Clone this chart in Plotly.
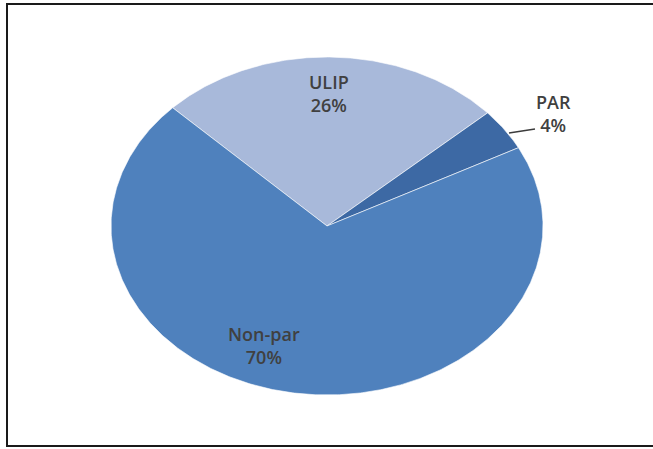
import numpy as np
import plotly.graph_objects as go

# Portfolio mix by product line (share in %)
categories = ["ULIP", "PAR", "Non-par"]
shares = [26, 4, 70]
colors = ["#A8B9DA", "#3D69A4", "#4F81BD"]

W, H = 653, 449
cx, cy, rx, ry = 327, 226, 216, 169   # ellipse geometry in pixels
start_deg = 135.6                      # first slice boundary, going clockwise

fig = go.Figure()

total = sum(shares)
a0 = start_deg
for name, v, col in zip(categories, shares, colors):
    span = 360.0 * v / total
    a1 = a0 - span
    t = np.radians(np.linspace(a0, a1, max(8, int(span * 2))))
    xs = np.concatenate([[cx], cx + rx * np.cos(t), [cx]])
    ys = np.concatenate([[cy], cy - ry * np.sin(t), [cy]])
    fig.add_trace(go.Scatter(
        x=xs, y=ys, mode="lines", fill="toself", fillcolor=col,
        line=dict(color="rgba(255,255,255,0.6)", width=1),
        hoverinfo="text", text=f"{name}: {v}%", showlegend=False,
    ))
    a0 = a1

# data labels
label_pos = {"ULIP": (329, 93), "PAR": (553, 113), "Non-par": (264, 345)}
for name, v in zip(categories, shares):
    x, y = label_pos[name]
    fig.add_annotation(
        x=x, y=y, xref="x", yref="y", showarrow=False,
        text=f"{name}<br>{v}%", align="center",
        font=dict(family="Open Sans, Arial", size=18, color="#404040", weight=600),
    )

# leader line for the small slice
fig.add_shape(type="line", x0=509, y0=133, x1=535, y1=129,
              line=dict(color="#3c3c3c", width=1.3))

# chart frame
fig.add_shape(type="rect", x0=7, y0=4, x1=W + 5, y1=446,
              line=dict(color="#1a1a1a", width=2), layer="above")

fig.update_xaxes(range=[0, W], visible=False, fixedrange=True)
fig.update_yaxes(range=[H, 0], visible=False, fixedrange=True)
fig.update_layout(
    width=W, height=H, margin=dict(l=0, r=0, t=0, b=0),
    paper_bgcolor="white", plot_bgcolor="white",
)

fig.write_html("out.html")
